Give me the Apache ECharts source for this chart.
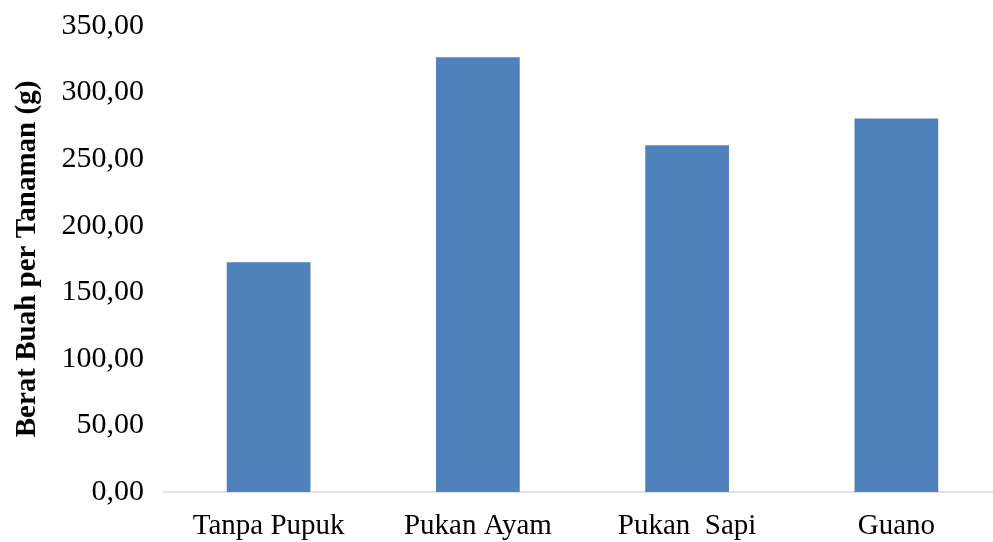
<!DOCTYPE html>
<html><head><meta charset="utf-8">
<script src="https://cdn.jsdelivr.net/npm/echarts@6/dist/echarts.min.js"></script>
<style>html,body{margin:0;padding:0;background:#fff}#c{width:993px;height:542px}</style>
</head><body><div id="c"></div>
<script>
const categories = ['Tanpa Pupuk', 'Pukan Ayam', 'Pukan  Sapi', 'Guano'];
const values = [172.5, 326.5, 260.5, 280.5];
const yTitle = 'Berat Buah per Tanaman (g)';

const chart = echarts.init(document.getElementById('c'));
chart.setOption({
  animation: false,
  backgroundColor: '#fff',
  grid: { left: 164, top: 26, bottom: 50, right: -8, containLabel: false, outerBoundsMode: 'none' },
  xAxis: {
    type: 'category', data: categories,
    axisLine: { lineStyle: { color: '#d9d9d9', width: 1.5 } },
    axisTick: { show: false },
    axisLabel: { color: '#000', fontFamily: 'Liberation Serif', fontSize: 29, margin: 20 }
  },
  yAxis: {
    type: 'value', min: 0, max: 350, interval: 50,
    name: yTitle, nameLocation: 'middle', nameRotate: 90, nameGap: 122,
    nameTextStyle: { color: '#000', fontFamily: 'Liberation Serif', fontSize: 29, fontWeight: 'bold' },
    axisLine: { show: false }, axisTick: { show: false },
    splitLine: { show: false },
    axisLabel: { color: '#000', fontFamily: 'Liberation Serif', fontSize: 30, margin: 20,
      formatter: v => v.toFixed(2).replace('.', ',') }
  },
  series: [{
    type: 'bar', data: values, barWidth: '40%',
    itemStyle: { color: '#4f81bd' }
  }]
});
</script></body></html>
